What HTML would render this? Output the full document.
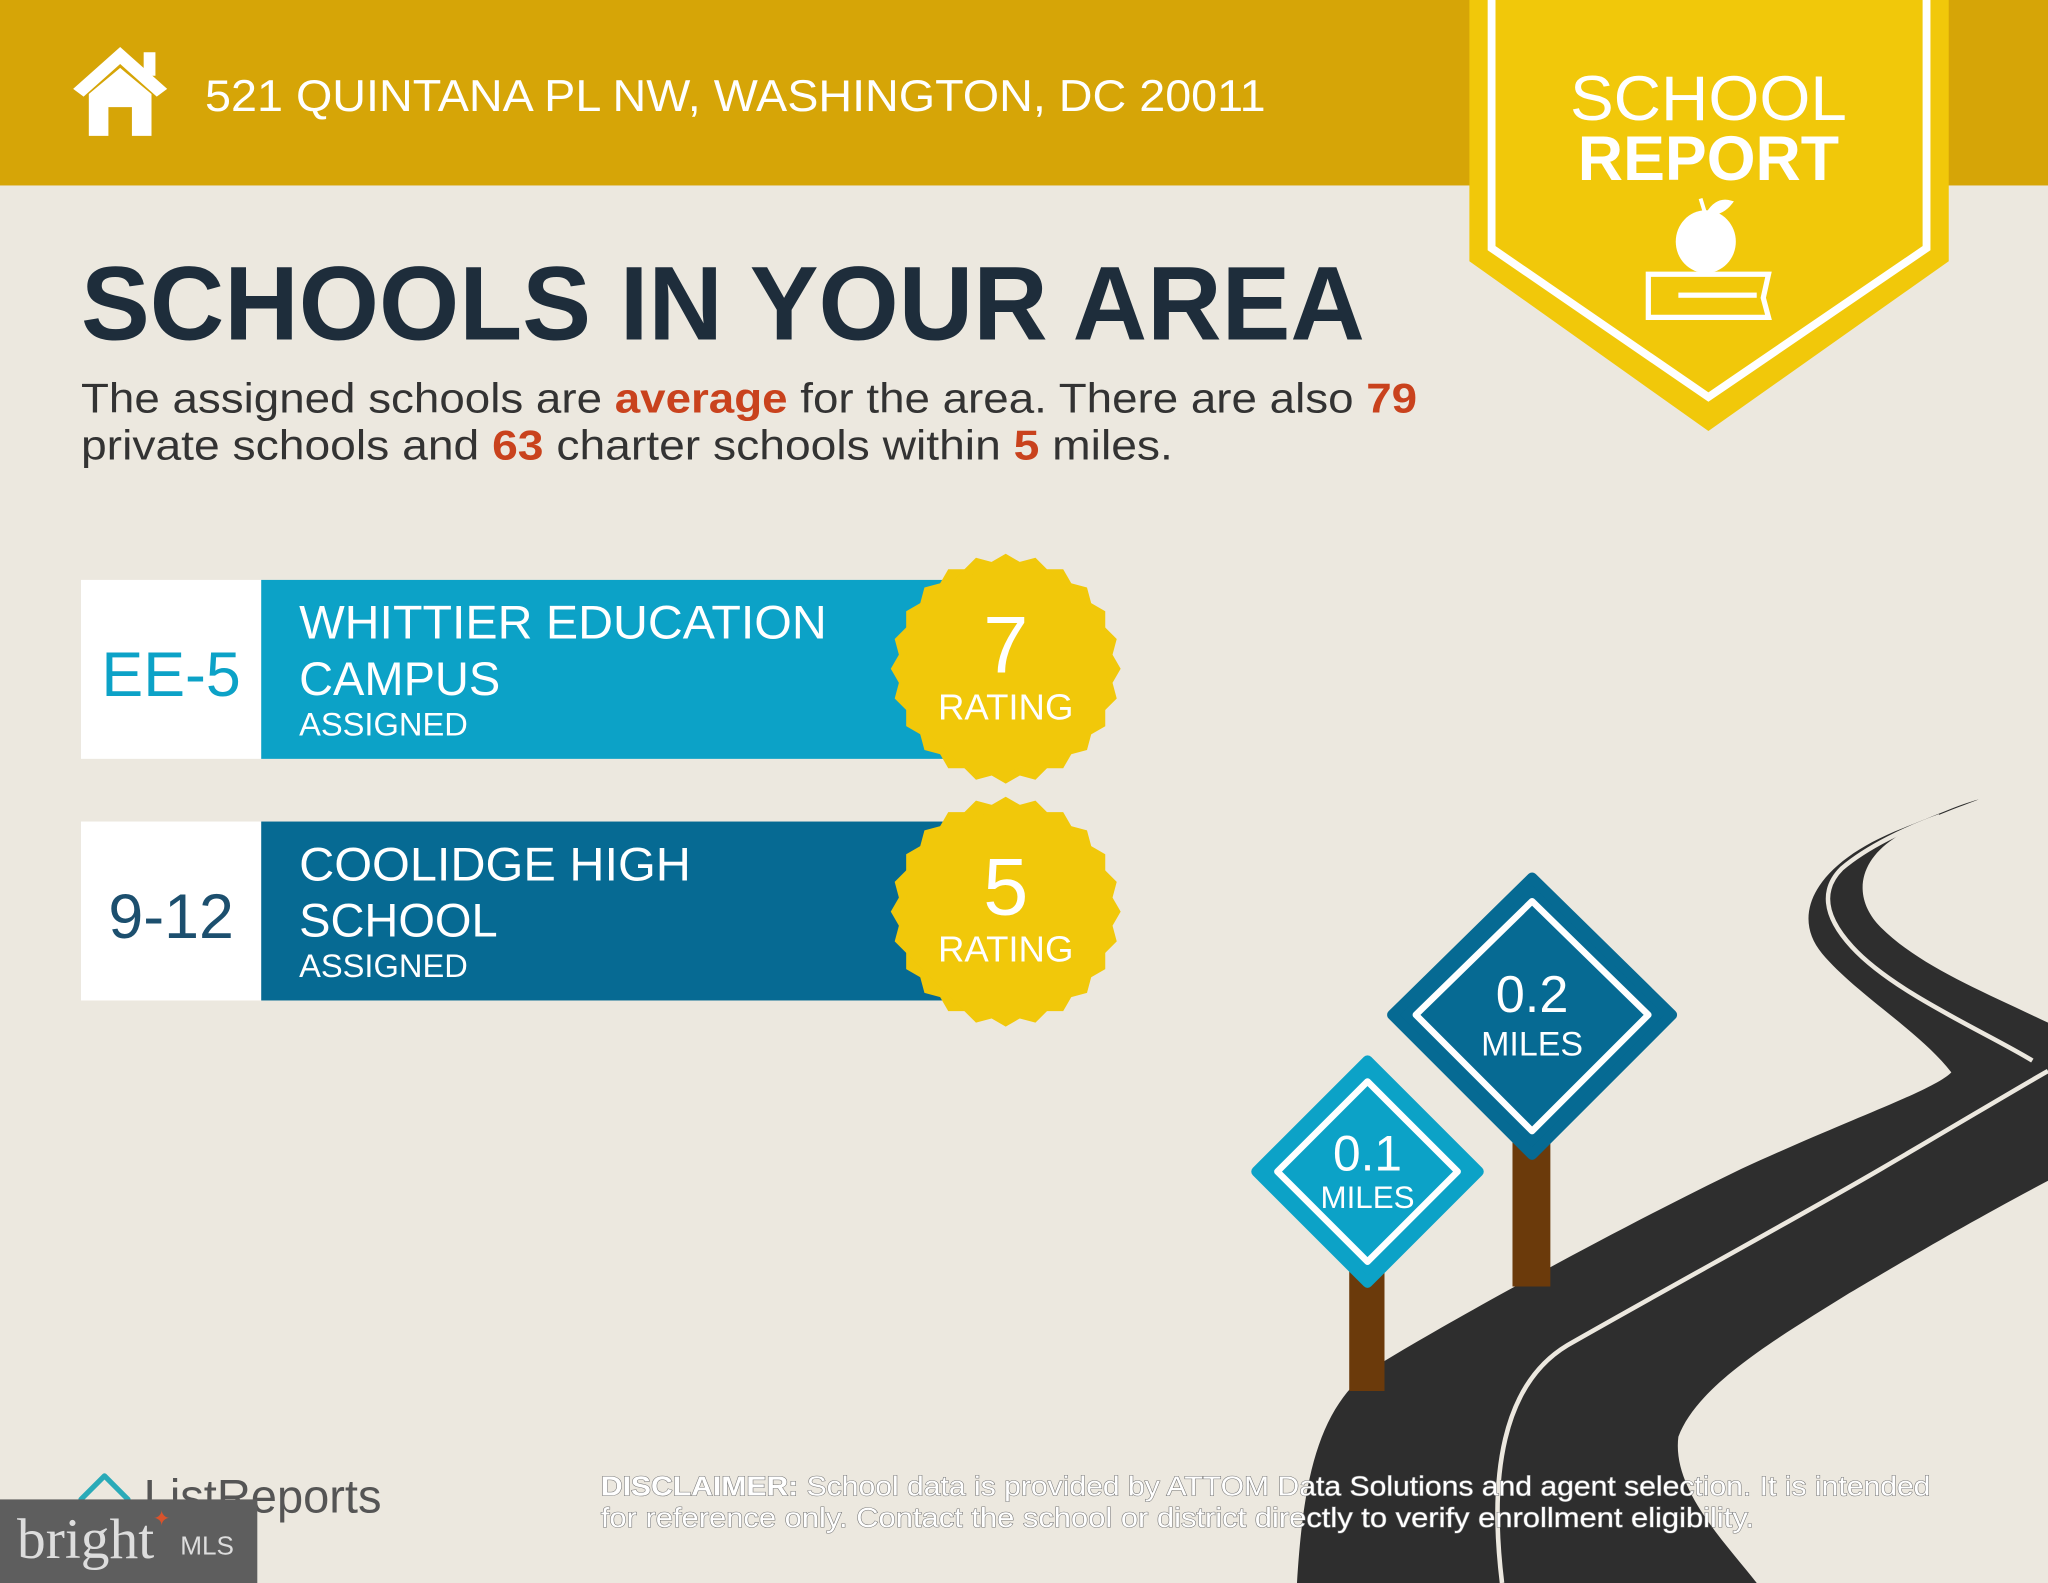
<!DOCTYPE html>
<html><head><meta charset="utf-8"><style>
html,body{margin:0;padding:0;background:#ECE8DF;}
svg{display:block;}
</style></head><body>
<svg width="2048" height="1583" viewBox="0 0 1568 1212" preserveAspectRatio="none" xmlns="http://www.w3.org/2000/svg" font-family="Liberation Sans, sans-serif">
<defs>
<polygon id="hx" points="88,0 44,76.2 -44,76.2 -88,0 -44,-76.2 44,-76.2" fill="#F1C80A"/>
<g id="star"><use href="#hx"/><use href="#hx" transform="rotate(15)"/><use href="#hx" transform="rotate(30)"/><use href="#hx" transform="rotate(45)"/></g>
</defs>
<rect width="1568" height="1212" fill="#ECE8DF"/>
<rect width="1568" height="142" fill="#D6A507"/>
<polygon points="92,36 56,68 64,74 92,49 120,74 128,68" fill="#fff"/>
<rect x="110" y="40" width="9" height="18" fill="#fff"/>
<polygon points="68,72 92,52 116,72 116,104 101,104 101,82 83,82 83,104 68,104" fill="#fff"/>
<text x="157" y="85" font-size="34" fill="#fff" textLength="812" lengthAdjust="spacingAndGlyphs">521 QUINTANA PL NW, WASHINGTON, DC 20011</text>
<polygon points="1125,0 1492,0 1492,200 1308,330 1125,200" fill="#F1C80A"/>
<polyline points="1142,0 1142,190 1308,304 1475,190 1475,0" fill="none" stroke="#fff" stroke-width="6"/>
<text x="1308" y="92" font-size="48" fill="#fff" text-anchor="middle" textLength="212" lengthAdjust="spacingAndGlyphs">SCHOOL</text>
<text x="1308" y="138" font-size="48" font-weight="bold" fill="#fff" text-anchor="middle" textLength="200" lengthAdjust="spacingAndGlyphs">REPORT</text>
<ellipse cx="1306" cy="185" rx="23" ry="24" fill="#fff"/>
<path d="M1306 165 L1302 152 M1308 163 Q1315 152 1325 155 Q1318 164 1308 163Z" stroke="#fff" stroke-width="3" fill="#fff"/>
<path d="M1262 210 L1354 210 L1350 228 L1354 243 L1262 243 Z" fill="none" stroke="#fff" stroke-width="4"/>
<rect x="1285" y="224" width="60" height="4" fill="#fff"/>
<text x="62" y="260" font-size="80" font-weight="bold" fill="#1E2D3B" textLength="983" lengthAdjust="spacingAndGlyphs">SCHOOLS IN YOUR AREA</text>
<text x="62" y="316" font-size="32" fill="#333" textLength="1023" lengthAdjust="spacingAndGlyphs">The assigned schools are <tspan fill="#C9421D" font-weight="bold">average</tspan> for the area. There are also <tspan fill="#C9421D" font-weight="bold">79</tspan></text>
<text x="62" y="352" font-size="32" fill="#333" textLength="836" lengthAdjust="spacingAndGlyphs">private schools and <tspan fill="#C9421D" font-weight="bold">63</tspan> charter schools within <tspan fill="#C9421D" font-weight="bold">5</tspan> miles.</text>
<rect x="62" y="444" width="138" height="137" fill="#fff"/>
<rect x="200" y="444" width="535" height="137" fill="#0CA2C7"/>
<text x="131" y="533" font-size="48" fill="#0CA2C7" text-anchor="middle">EE-5</text>
<text x="229" y="489" font-size="36" fill="#fff" textLength="404" lengthAdjust="spacingAndGlyphs">WHITTIER EDUCATION</text>
<text x="229" y="532" font-size="36" fill="#fff">CAMPUS</text>
<text x="229" y="563" font-size="25" fill="#fff">ASSIGNED</text>
<use href="#star" transform="translate(770,512)"/>
<text x="770" y="515" font-size="62" fill="#fff" text-anchor="middle">7</text>
<text x="770" y="551" font-size="28" fill="#fff" text-anchor="middle">RATING</text>
<rect x="62" y="629" width="138" height="137" fill="#fff"/>
<rect x="200" y="629" width="535" height="137" fill="#066A93"/>
<text x="131" y="718" font-size="48" fill="#1C4F6E" text-anchor="middle">9-12</text>
<text x="229" y="674" font-size="36" fill="#fff" textLength="300" lengthAdjust="spacingAndGlyphs">COOLIDGE HIGH</text>
<text x="229" y="717" font-size="36" fill="#fff">SCHOOL</text>
<text x="229" y="748" font-size="25" fill="#fff">ASSIGNED</text>
<use href="#star" transform="translate(770,698)"/>
<text x="770" y="700" font-size="62" fill="#fff" text-anchor="middle">5</text>
<text x="770" y="736" font-size="28" fill="#fff" text-anchor="middle">RATING</text>
<path d="M993,1212 C998,1130 1010,1070 1060,1042 C1130,1000 1250,935 1333,895 C1420,855 1480,835 1494,821 C1470,790 1420,760 1395,730 C1370,700 1390,660 1457,634 C1480,625 1500,616 1515,612 C1500,618 1470,628 1450,642 C1420,662 1420,690 1440,710 C1470,740 1520,760 1568,783 L1568,904 C1500,940 1450,970 1416,990 C1360,1025 1300,1060 1285,1100 C1280,1140 1320,1180 1345,1212 Z" fill="#2E2E2E"/>
<path d="M1150,1212 C1140,1130 1150,1060 1200,1030 C1270,990 1380,930 1440,895 C1500,860 1550,830 1568,820 M1556,812 C1520,790 1450,760 1418,725 C1395,700 1395,680 1410,665 C1430,648 1460,634 1485,625" fill="none" stroke="#ECE8DF" stroke-width="3.5"/>
<rect x="1033" y="960" width="27" height="105" fill="#6B3A0B"/>
<rect x="1158" y="860" width="29" height="125" fill="#6B3A0B"/>
<polygon points="1173,672 1280,777 1173,884 1066,777" fill="#066A93" stroke="#066A93" stroke-width="8" stroke-linejoin="round"/>
<polygon points="1173,690 1262,777 1173,866 1084,777" fill="none" stroke="#fff" stroke-width="5" stroke-linejoin="round"/>
<text x="1173" y="775" font-size="40" fill="#fff" text-anchor="middle">0.2</text>
<text x="1173" y="808" font-size="26" fill="#fff" text-anchor="middle">MILES</text>
<polygon points="1047,812 1132,897 1047,982 962,897" fill="#0CA2C7" stroke="#0CA2C7" stroke-width="8" stroke-linejoin="round"/>
<polygon points="1047,828 1116,897 1047,966 978,897" fill="none" stroke="#fff" stroke-width="5" stroke-linejoin="round"/>
<text x="1047" y="896" font-size="38" fill="#fff" text-anchor="middle">0.1</text>
<text x="1047" y="925" font-size="24" fill="#fff" text-anchor="middle">MILES</text>
<path d="M62,1148 L80,1130 L98,1148 L98,1165 L62,1165 Z" fill="none" stroke="#2AAAB8" stroke-width="4" stroke-linejoin="round"/>
<text x="110" y="1158" font-size="36" fill="#555">ListReports</text>
<rect x="0" y="1148" width="197" height="64" fill="#5E5E5E"/>
<text x="13" y="1193" font-size="44" fill="#ddd" font-family="Liberation Serif, serif">bright</text>
<text x="138" y="1190" font-size="20" fill="#ddd">MLS</text>
<text x="117" y="1168" font-size="16" fill="#D9532C">✦</text>
<text x="460" y="1145" font-size="21" fill="#fff" stroke="#777" stroke-width="0.8" paint-order="stroke" textLength="1018" lengthAdjust="spacingAndGlyphs"><tspan font-weight="bold">DISCLAIMER:</tspan> School data is provided by ATTOM Data Solutions and agent selection. It is intended</text>
<text x="460" y="1169" font-size="21" fill="#fff" stroke="#777" stroke-width="0.8" paint-order="stroke" textLength="883" lengthAdjust="spacingAndGlyphs">for reference only. Contact the school or district directly to verify enrollment eligibility.</text>
</svg>
</body></html>
